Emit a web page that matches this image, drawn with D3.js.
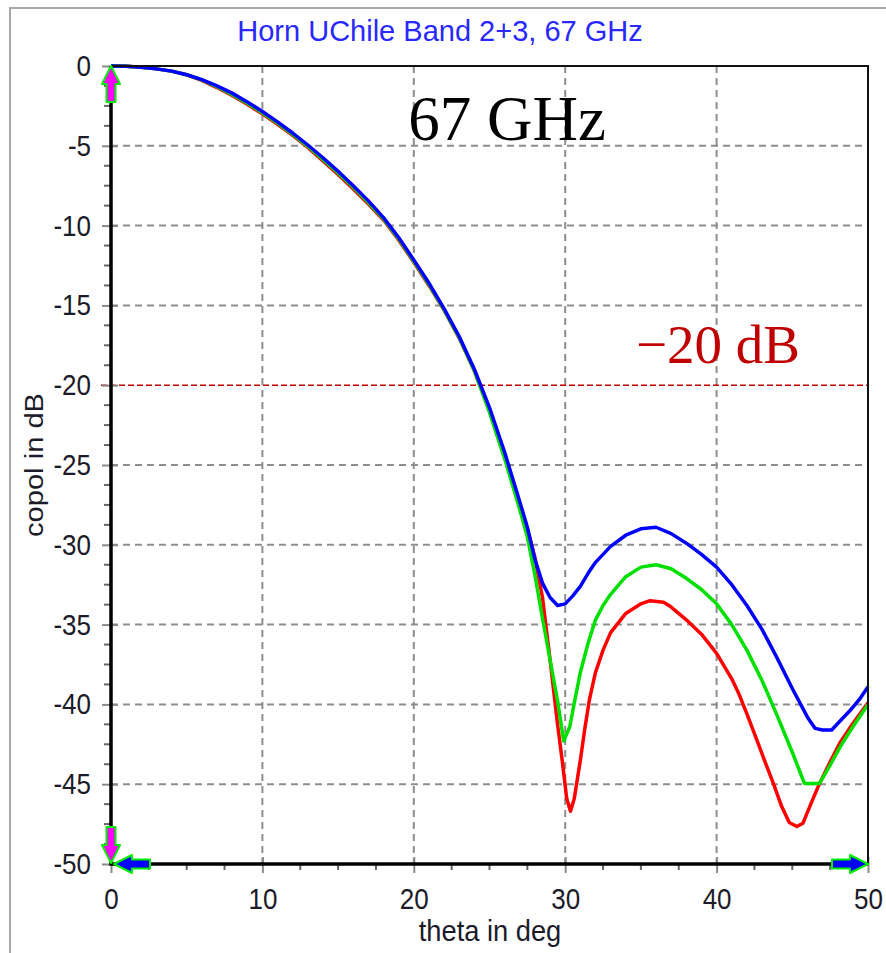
<!DOCTYPE html>
<html>
<head>
<meta charset="utf-8">
<script src="https://cdn.jsdelivr.net/npm/d3@7"></script>
<style>
  body { margin: 0; background: #fff; }
  svg { display: block; }
</style>
</head>
<body>
<div id="chart"></div>
<script>
// tick values and labels
var thetaTicks = [0, 10, 20, 30, 40, 50];
var dbTicks = [0, -5, -10, -15, -20, -25, -30, -35, -40, -45, -50];
var titleText = "Horn UChile Band 2+3, 67 GHz";
var freqText = "67 GHz";
var refLevel = -20;
var refText = "\u221220 dB";
var xTitle = "theta in deg";
var yTitle = "copol in dB";

// blue curve
var blueTheta = [0, 1, 2, 3, 4, 5, 6, 7, 8, 9, 10, 11, 12, 13, 14, 15, 16, 17, 18, 19, 20, 21, 22, 23, 24, 25, 26, 27,
  27.5, 28, 28.5, 29, 29.5, 30, 30.5, 31, 31.5, 32, 33, 34, 35, 36, 37, 38, 39, 40, 41, 42, 43, 44, 45, 46, 46.5, 47, 47.6, 48, 48.8, 49.5, 50];
var blueDb = [0, -0.02, -0.08, -0.18, -0.32, -0.55, -0.85, -1.25, -1.7, -2.25, -2.85, -3.5, -4.2, -4.95, -5.75, -6.6, -7.5, -8.45, -9.5, -10.75, -12.15, -13.6, -15.2, -16.95, -19.0, -21.4, -24.2, -27.3,
  -28.9, -30.9, -32.4, -33.3, -33.8, -33.7, -33.2, -32.6, -31.8, -31.1, -30.1, -29.4, -29.0, -28.9, -29.3, -29.9, -30.6, -31.4, -32.5, -33.8, -35.3, -37.1, -39.0, -40.8, -41.5, -41.6, -41.6, -41.2, -40.4, -39.6, -38.9];

// green curve
var greenTheta = [0, 1, 2, 3, 4, 5, 6, 7, 8, 9, 10, 11, 12, 13, 14, 15, 16, 17, 18, 19, 20, 21, 22, 23, 24, 25, 26, 27,
  27.5, 28, 28.5, 29, 29.5, 29.9, 30.3, 30.6, 31, 31.5, 32, 32.5, 33, 34, 35, 36, 37, 38, 39, 40, 41, 42, 43, 44, 45, 45.8, 46.8, 47.5, 48.2, 49, 50];
var greenDb = [0, -0.02, -0.08, -0.18, -0.32, -0.55, -0.87, -1.3, -1.78, -2.33, -2.93, -3.58, -4.28, -5.03, -5.85, -6.7, -7.6, -8.55, -9.58, -10.83, -12.23, -13.68, -15.27, -17.02, -19.1, -21.7, -24.6, -27.8,
  -29.5, -31.9, -34.6, -37.2, -39.8, -42.3, -41.4, -39.9, -38.0, -36.2, -34.7, -33.8, -33.1, -32.0, -31.4, -31.25, -31.5, -32.1, -32.8, -33.7, -35.0, -36.6, -38.5, -40.7, -43.0, -44.95, -44.95, -43.8, -42.6, -41.4, -40.0];

// red curve
var redTheta = [0, 1, 2, 3, 4, 5, 6, 7, 8, 9, 10, 11, 12, 13, 14, 15, 16, 17, 18, 19, 20, 21, 22, 23, 24, 25, 26, 27,
  27.5, 28, 28.5, 29, 29.5, 29.8, 30.1, 30.35, 30.6, 31, 31.3, 31.6, 32, 32.5, 33, 34, 35, 35.6, 36.5, 37, 38, 39, 40, 41, 41.5, 42, 42.65, 43.2, 43.75, 44.3, 44.8, 45.3, 45.7, 46.2, 46.8, 47.5, 48.15, 49, 50];
var redDb = [0, -0.02, -0.08, -0.18, -0.32, -0.55, -0.9, -1.35, -1.85, -2.4, -3.0, -3.65, -4.35, -5.1, -5.95, -6.8, -7.7, -8.65, -9.65, -10.9, -12.3, -13.75, -15.3, -17.05, -19.1, -21.6, -24.5, -27.5,
  -29.0, -30.8, -33.3, -37.2, -41.3, -43.5, -45.9, -46.7, -45.9, -43.5, -41.5, -39.7, -38.0, -36.6, -35.5, -34.3, -33.7, -33.5, -33.6, -33.9, -34.7, -35.6, -36.8, -38.4, -39.4, -40.6, -42.2, -43.6, -44.95, -46.4, -47.4, -47.65, -47.45, -46.3, -44.95, -43.6, -42.4, -41.2, -39.9];

var width = 886, height = 953;
var plotL = 111, plotR = 868, plotT = 66, plotB = 864;

var svg = d3.select("#chart").append("svg")
  .attr("width", width)
  .attr("height", height);

var x = d3.scaleLinear().domain([0, 50]).range([plotL, plotR]);
var y = d3.scaleLinear().domain([-50, 0]).range([plotB, plotT]);

// outer frame of the window
svg.append("path")
  .attr("d", "M10," + height + "V8H" + width)
  .attr("fill", "none")
  .attr("stroke", "#a8a8a8")
  .attr("stroke-width", 2);

// title
svg.append("text")
  .attr("x", 440).attr("y", 41)
  .attr("text-anchor", "middle")
  .style("font-family", "'Liberation Sans', Arial, sans-serif")
  .style("font-size", "29px")
  .attr("fill", "#2828ff")
  .text(titleText);

// grid
svg.append("g").selectAll("line")
  .data(thetaTicks.slice(1, -1))
  .enter().append("line")
  .attr("x1", function(d) { return x(d); })
  .attr("x2", function(d) { return x(d); })
  .attr("y1", plotT).attr("y2", plotB)
  .attr("stroke", "#8e8e8e")
  .attr("stroke-width", 2)
  .attr("stroke-dasharray", "7,5");

svg.append("g").selectAll("line")
  .data(dbTicks.slice(1, -1).filter(function(d) { return d !== refLevel; }))
  .enter().append("line")
  .attr("x1", plotL).attr("x2", plotR)
  .attr("y1", function(d) { return y(d); })
  .attr("y2", function(d) { return y(d); })
  .attr("stroke", "#8e8e8e")
  .attr("stroke-width", 2)
  .attr("stroke-dasharray", "7,5");

// -20 dB reference line
svg.append("line")
  .attr("x1", plotL - 10).attr("x2", plotR)
  .attr("y1", y(refLevel)).attr("y2", y(refLevel))
  .attr("stroke", "#c00000")
  .attr("stroke-width", 1.6)
  .attr("stroke-dasharray", "6,3");

// minor ticks
var minorY = d3.range(-50, 0.01, 1.25).filter(function(d) { return Math.abs(d % 5) > 0.01; });
var minorX = d3.range(0, 50.01, 2.5).filter(function(d) { return Math.abs(d % 10) > 0.01; });

svg.append("g").selectAll("line")
  .data(minorY)
  .enter().append("line")
  .attr("x1", plotL - 7).attr("x2", plotL)
  .attr("y1", function(d) { return y(d); })
  .attr("y2", function(d) { return y(d); })
  .attr("stroke", "#666").attr("stroke-width", 2);

svg.append("g").selectAll("line")
  .data(minorX)
  .enter().append("line")
  .attr("x1", function(d) { return x(d); })
  .attr("x2", function(d) { return x(d); })
  .attr("y1", plotB).attr("y2", plotB + 6)
  .attr("stroke", "#666").attr("stroke-width", 2);

// axes with labels
var yAxis = svg.append("g")
  .attr("transform", "translate(" + plotL + ",0)")
  .call(d3.axisLeft(y).tickValues(dbTicks).tickSizeInner(9).tickSizeOuter(0).tickPadding(12));

var xAxis = svg.append("g")
  .attr("transform", "translate(0," + plotB + ")")
  .call(d3.axisBottom(x).tickValues(thetaTicks).tickSizeInner(9).tickSizeOuter(0).tickPadding(12));

[yAxis, xAxis].forEach(function(ax) {
  ax.select(".domain").remove();
  ax.selectAll(".tick line").attr("stroke", "#8a8a8a").attr("stroke-width", 2);
  ax.selectAll(".tick text")
    .style("font-family", "'Liberation Sans', Arial, sans-serif")
    .style("font-size", "26px")
    .attr("fill", "#1b1b2a");
});
yAxis.selectAll(".tick line").attr("x1", 7);
yAxis.selectAll(".tick text")
  .text(function(d) { return d === 0 ? "0" : "-" + Math.abs(d); })
  .attr("x", -20)
  .attr("transform", "scale(1,1.13)");
xAxis.selectAll(".tick line").attr("y1", -7);
xAxis.selectAll(".tick text")
  .attr("y", 0).attr("dy", 0)
  .attr("transform", "translate(0,45) scale(1,1.13)");

// axis titles
svg.append("text")
  .attr("transform", "translate(" + 43 + "," + 465 + ") rotate(-90) scale(1.12,1)")
  .attr("text-anchor", "middle")
  .style("font-family", "'Liberation Sans', Arial, sans-serif")
  .style("font-size", "26px")
  .attr("fill", "#1b1b2a")
  .text(yTitle);

svg.append("text")
  .attr("transform", "translate(" + 490 + "," + 941 + ") scale(1.05,1.1)")
  .attr("text-anchor", "middle")
  .style("font-family", "'Liberation Sans', Arial, sans-serif")
  .style("font-size", "26px")
  .attr("fill", "#1b1b2a")
  .text(xTitle);

// curves
var line = d3.line()
  .x(function(d) { return x(d[0]); })
  .y(function(d) { return y(d[1]); });

var series = [
  { color: "#ff0000", theta: redTheta, db: redDb },
  { color: "#00e000", theta: greenTheta, db: greenDb },
  { color: "#0000ff", theta: blueTheta, db: blueDb }
];

svg.append("g").selectAll("path")
  .data(series)
  .enter().append("path")
  .attr("d", function(s) { return line(d3.zip(s.theta, s.db)); })
  .attr("fill", "none")
  .attr("stroke", function(s) { return s.color; })
  .attr("stroke-width", 3.5)
  .attr("stroke-linejoin", "round");

// plot frame: thin top/right, thick left/bottom
svg.append("path")
  .attr("d", "M" + plotL + "," + plotT + "H" + plotR + "V" + plotB)
  .attr("fill", "none")
  .attr("stroke", "#111")
  .attr("stroke-width", 2);

svg.append("path")
  .attr("d", "M" + plotL + "," + plotT + "V" + plotB + "H" + plotR)
  .attr("fill", "none")
  .attr("stroke", "#000")
  .attr("stroke-width", 3.5);

// axis arrows
var arrowShape = "M0,0L9,18L4.5,18L4.5,36L-4.5,36L-4.5,18L-9,18Z";
var arrows = [
  { at: [x(0), y(0)], angle: 0, fill: "#ff00ff" },
  { at: [x(0), y(-50) - 1], angle: 180, fill: "#ff00ff" },
  { at: [x(0) + 3, y(-50)], angle: -90, fill: "#0000ff" },
  { at: [x(50), y(-50)], angle: 90, fill: "#0000ff" }
];
svg.append("g").selectAll("path")
  .data(arrows)
  .enter().append("path")
  .attr("d", arrowShape)
  .attr("transform", function(d) { return "translate(" + d.at[0] + "," + d.at[1] + ") rotate(" + d.angle + ")"; })
  .attr("fill", function(d) { return d.fill; })
  .attr("stroke", "#00ee00")
  .attr("stroke-width", 2)
  .attr("stroke-linejoin", "round");

// annotations
svg.append("text")
  .attr("x", 507).attr("y", 140)
  .attr("text-anchor", "middle")
  .style("font-family", "'Liberation Serif', 'Times New Roman', serif")
  .style("font-size", "63px")
  .attr("fill", "#000")
  .text(freqText);

svg.append("text")
  .attr("x", 718).attr("y", 363)
  .attr("text-anchor", "middle")
  .style("font-family", "'Liberation Serif', 'Times New Roman', serif")
  .style("font-size", "55px")
  .attr("fill", "#c00000")
  .text(refText);
</script>
</body>
</html>
